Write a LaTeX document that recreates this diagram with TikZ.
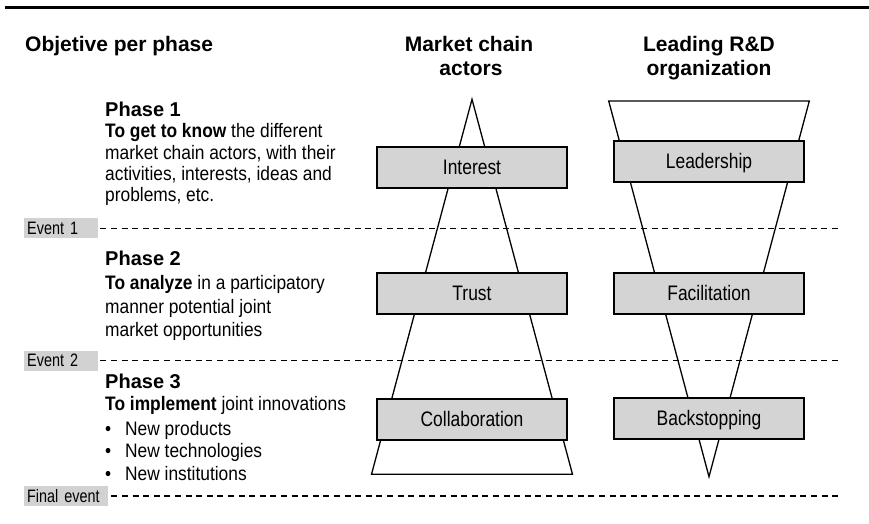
\documentclass[tikz,border=0pt]{standalone}
\usepackage{fontspec}
\setmainfont{Liberation Sans}
\newfontfamily\condfont[FakeStretch=0.83]{Liberation Sans}
\newfontfamily\bodyfont[FakeStretch=0.89]{Liberation Sans}
\newfontfamily\evfont[FakeStretch=0.8]{Liberation Sans}
\definecolor{boxgrey}{RGB}{212,212,212}
\definecolor{evgrey}{RGB}{210,210,210}
\begin{document}
\begin{tikzpicture}[x=1bp,y=-1bp,
  header/.style={anchor=base, inner sep=0pt, font=\fontsize{21bp}{23bp}\selectfont\bfseries},
  phasetitle/.style={anchor=base west, inner sep=0pt, font=\fontsize{20bp}{22bp}\selectfont\bfseries},
  body/.style={anchor=base west, inner sep=0pt, font=\bodyfont\fontsize{19.5bp}{22bp}\selectfont},
  stage/.style={draw=black, line width=2bp, fill=boxgrey, minimum width=190.5bp, minimum height=41bp, inner sep=0pt, text height=17bp, text depth=3bp, font=\condfont\fontsize{21bp}{22bp}\selectfont},
  eventlabel/.style={fill=evgrey, anchor=west, minimum height=20bp, inner ysep=0pt, inner xsep=3bp, align=left, font=\evfont\fontsize{18bp}{18bp}\selectfont},
  eventline/.style={dash pattern=on 6bp off 4.6bp, line width=1.3bp},
  funnel/.style={line width=1.3bp, line join=miter}]
\useasboundingbox (0,0) rectangle (869,524);

% top rule
\coordinate (ruleL) at (5,8);
\coordinate (ruleR) at (869,8);
\draw[line width=3bp] (ruleL) -- (ruleR);

% headers
\node[header, anchor=base west] (hobj) at (25,52) {Objetive per phase};
\node[header] (hmkt1) at (469,52) {Market chain};
\node[header] (hmkt2) at (471,76) {actors};
\node[header] (hrd1) at (709,52) {Leading R\&D};
\node[header] (hrd2) at (709,76) {organization};

% funnels
\coordinate (mApex) at (472,99.3);
\coordinate (mBL) at (371.5,474.3);
\coordinate (mBR) at (572.5,474.3);
\draw[funnel] (mApex) -- (mBR) -- (mBL) -- cycle;
\coordinate (rTL) at (608.7,101);
\coordinate (rTR) at (809.3,101);
\coordinate (rApex) at (709,476.7);
\draw[funnel] (rTL) -- (rTR) -- (rApex) -- cycle;

% stage boxes
\node[stage] (interest) at (472,168) {Interest};
\node[stage] (leader) at (709,162) {Leadership};
\node[stage] (trust) at (472,293.3) {Trust};
\node[stage] (facil) at (709,293.3) {Facilitation};
\node[stage] (collab) at (472,419) {Collaboration};
\node[stage] (backst) at (709,418.7) {Backstopping};

% events
\node[eventlabel, text width=68bp] (ev1) at (24,228.5) {Event 1};
\node[eventlabel, text width=68bp] (ev2) at (24,360.5) {Event 2};
\node[eventlabel, text width=78bp] (ev3) at (24,496) {Final event};
\coordinate (ev1end) at (840,228.5);
\coordinate (ev2end) at (840,360.5);
\coordinate (ev3end) at (838,496);
\draw[eventline] ([xshift=2bp]ev1.east) -- (ev1end);
\draw[eventline] ([xshift=2bp]ev2.east) -- (ev2end);
\draw[eventline] ([xshift=3bp]ev3.east) -- (ev3end);

% phase 1
\node[phasetitle] (p1) at (105,117) {Phase 1};
\node[body] (p1a) at (105,137.5) {\textbf{To get to know} the different};
\node[body] (p1b) at (105,159.5) {market chain actors, with their};
\node[body] (p1c) at (105,181) {activities, interests, ideas and};
\node[body] (p1d) at (105,202) {problems, etc.};

% phase 2
\node[phasetitle] (p2) at (105,266) {Phase 2};
\node[body] (p2a) at (105,290) {\textbf{To analyze} in a participatory};
\node[body] (p2b) at (105,313.5) {manner potential joint};
\node[body] (p2c) at (105,336.5) {market opportunities};

% phase 3
\node[phasetitle] (p3) at (105,388) {Phase 3};
\node[body] (p3a) at (105,410) {\textbf{To implement} joint innovations};
\node[body] (b1) at (105,435) {\textbullet};
\node[body] (p3b) at (125,435) {New products};
\node[body] (b2) at (105,457.5) {\textbullet};
\node[body] (p3c) at (125,457.5) {New technologies};
\node[body] (b3) at (105,480.5) {\textbullet};
\node[body] (p3d) at (125,480.5) {New institutions};
\end{tikzpicture}
\end{document}
